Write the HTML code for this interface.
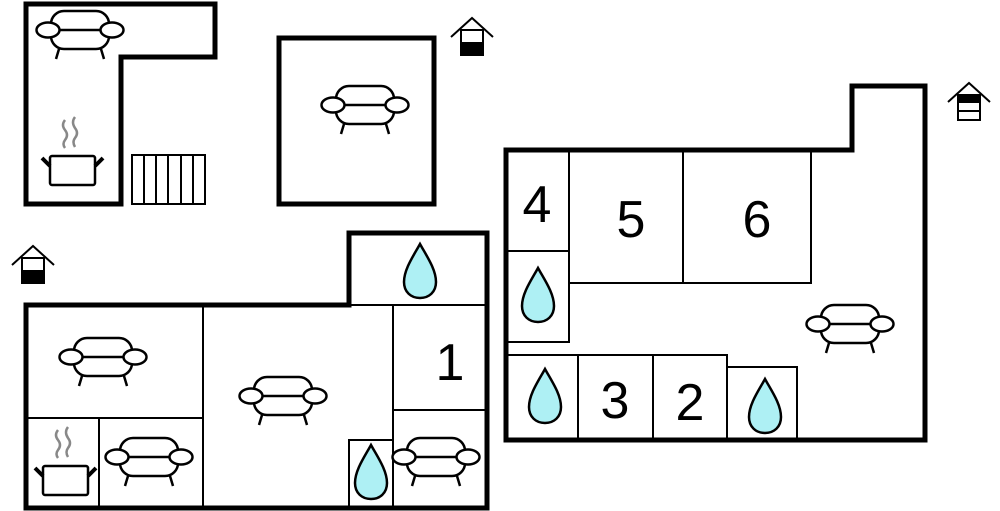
<!DOCTYPE html>
<html><head><style>
html,body{margin:0;padding:0;background:#fff;}
svg{display:block;}
text{font-family:"Liberation Sans",sans-serif;font-size:52px;fill:#000;text-anchor:middle;}
</style></head><body>
<svg width="1000" height="511" viewBox="0 0 1000 511" xmlns="http://www.w3.org/2000/svg">
<defs>
<g id="sofa" fill="#fff" stroke="#000" stroke-width="2.5">
<rect x="-29" y="-19" width="58" height="38" rx="13"/>
<line x1="-26" y1="0" x2="26" y2="0"/>
<ellipse cx="-32" cy="0" rx="11.5" ry="7.5"/>
<ellipse cx="32" cy="0" rx="11.5" ry="7.5"/>
<line x1="-21" y1="19" x2="-24" y2="29"/>
<line x1="21" y1="19" x2="24" y2="29"/>
</g>
<g id="drop"><path d="M0,-27 C6,-16 16,-2 16,11 C16,21 9,27 0,27 C-9,27 -16,21 -16,11 C-16,-2 -6,-16 0,-27 Z" fill="#aef0f4" stroke="#000" stroke-width="2.5"/></g>
<g id="pot">
<path d="M-8,-42 Q-12,-37 -8,-32 Q-4,-27 -8,-22 Q-11,-18 -8,-14 M2,-45 Q-2,-40 2,-34 Q6,-29 2,-24 Q-1,-20 2,-15" fill="none" stroke="#888" stroke-width="2.5"/>
<rect x="-23" y="-6" width="45" height="29" rx="2" fill="#fff" stroke="#000" stroke-width="2.5"/>
<line x1="-23" y1="4" x2="-31" y2="-4" stroke="#000" stroke-width="4"/>
<line x1="22" y1="4" x2="30" y2="-4" stroke="#000" stroke-width="4"/>
</g>
<g id="house" fill="none" stroke="#000" stroke-width="2">
<path d="M-21,1 L0,-18 L21,1"/>
<rect x="-11" y="-6" width="22" height="25" fill="#fff"/>
</g>
</defs>

<path d="M26,4 H215 V57 H121 V204 H26 Z" fill="none" stroke="#000" stroke-width="5"/>
<g fill="none" stroke="#000" stroke-width="2">
<rect x="132" y="155" width="73" height="49"/>
<line x1="144" y1="155" x2="144" y2="204"/><line x1="156" y1="155" x2="156" y2="204"/>
<line x1="168" y1="155" x2="168" y2="204"/><line x1="181" y1="155" x2="181" y2="204"/>
<line x1="193" y1="155" x2="193" y2="204"/>
</g>
<use href="#sofa" x="80" y="30"/>
<use href="#pot" x="73" y="162"/>

<rect x="279" y="38" width="155" height="166" fill="none" stroke="#000" stroke-width="5"/>
<use href="#sofa" x="365" y="105"/>

<use href="#house" x="472" y="36"/><rect x="461" y="42" width="22" height="13"/>
<use href="#house" x="33" y="264"/><rect x="22" y="270" width="22" height="13"/>
<g><use href="#house" x="969" y="101"/><rect x="958" y="95" width="22" height="8"/><line x1="958" y1="111" x2="980" y2="111" stroke="#000" stroke-width="2"/></g>

<g fill="none" stroke="#000" stroke-width="2">
<line x1="203" y1="305" x2="203" y2="508"/>
<line x1="26" y1="418" x2="203" y2="418"/>
<line x1="99" y1="418" x2="99" y2="508"/>
<line x1="393" y1="305" x2="393" y2="508"/>
<line x1="349" y1="305" x2="487" y2="305"/>
<line x1="393" y1="410" x2="487" y2="410"/>
<rect x="349" y="440" width="44" height="68"/>
</g>
<path d="M26,305 H349 V233 H487 V508 H26 Z" fill="none" stroke="#000" stroke-width="5"/>
<use href="#sofa" x="103" y="357"/>
<use href="#sofa" x="283" y="396"/>
<use href="#sofa" x="149" y="457"/>
<use href="#sofa" x="436" y="457"/>
<use href="#pot" x="66" y="472"/>
<use href="#drop" x="420" y="271"/>
<use href="#drop" x="371" y="472"/>
<text x="450" y="380">1</text>

<g fill="none" stroke="#000" stroke-width="2">
<rect x="506" y="150" width="63" height="101"/>
<rect x="506" y="251" width="63" height="91"/>
<rect x="569" y="150" width="114" height="133"/>
<rect x="683" y="150" width="128" height="133"/>
<rect x="506" y="355" width="72" height="85"/>
<rect x="578" y="355" width="75" height="85"/>
<rect x="653" y="355" width="74" height="85"/>
<rect x="727" y="367" width="70" height="73"/>
</g>
<path d="M506,150 H852 V86 H925 V440 H506 Z" fill="none" stroke="#000" stroke-width="5"/>
<use href="#sofa" x="850" y="324"/>
<use href="#drop" x="538" y="295"/>
<use href="#drop" x="545" y="396"/>
<use href="#drop" x="765" y="406"/>
<text x="537" y="222">4</text>
<text x="631" y="237">5</text>
<text x="757" y="237">6</text>
<text x="615" y="418">3</text>
<text x="690" y="420">2</text>
</svg>
</body></html>
